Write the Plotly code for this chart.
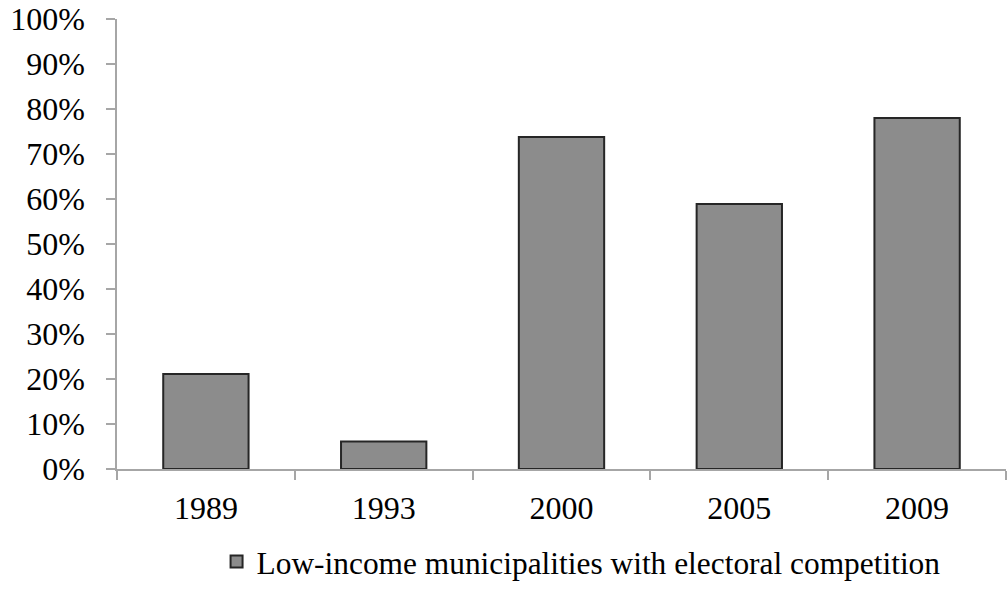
import plotly.graph_objects as go

# Election years and share of low-income municipalities with electoral competition
years = ["1989", "1993", "2000", "2005", "2009"]
share = [0.211, 0.061, 0.738, 0.589, 0.780]
series_name = "Low-income municipalities with electoral competition"
y_ticks = [i / 10 for i in range(11)]
y_tick_text = [f"{i * 10}%" for i in range(11)]

FONT = "Liberation Serif"
AXIS_GREY = "#a6a6a6"

fig = go.Figure()
fig.add_trace(
    go.Bar(
        x=years,
        y=share,
        name=series_name,
        width=0.48,
        marker=dict(color="#8c8c8c", line=dict(color="#262626", width=2)),
        showlegend=True,
    )
)

fig.update_layout(
    width=1007,
    height=600,
    margin=dict(l=117, r=1, t=17, b=131),
    paper_bgcolor="white",
    plot_bgcolor="white",
    font=dict(family=FONT, size=32, color="#000000"),
    showlegend=True,
    legend=dict(
        orientation="h",
        x=0.112,
        xanchor="left",
        y=-0.206,
        yanchor="middle",
        font=dict(family=FONT, size=31.4, color="#000000"),
        bgcolor="rgba(0,0,0,0)",
    ),
    bargap=0.52,
)

fig.update_xaxes(
    type="category",
    showline=True,
    linecolor=AXIS_GREY,
    linewidth=1.5,
    ticks="outside",
    tickson="boundaries",
    ticklen=9,
    tickcolor=AXIS_GREY,
    tickwidth=1.5,
    showgrid=False,
    ticklabelstandoff=10,
    tickfont=dict(family=FONT, size=32, color="#000000"),
)

fig.update_yaxes(
    range=[0, 1],
    tickvals=y_ticks,
    ticktext=y_tick_text,
    showline=True,
    linecolor=AXIS_GREY,
    linewidth=1.5,
    ticks="outside",
    ticklen=9,
    tickcolor=AXIS_GREY,
    tickwidth=1.5,
    showgrid=False,
    zeroline=False,
    ticklabeloverflow="allow",
    ticklabelstandoff=15,
    tickfont=dict(family=FONT, size=32, color="#000000"),
)

fig.write_html("out.html")
